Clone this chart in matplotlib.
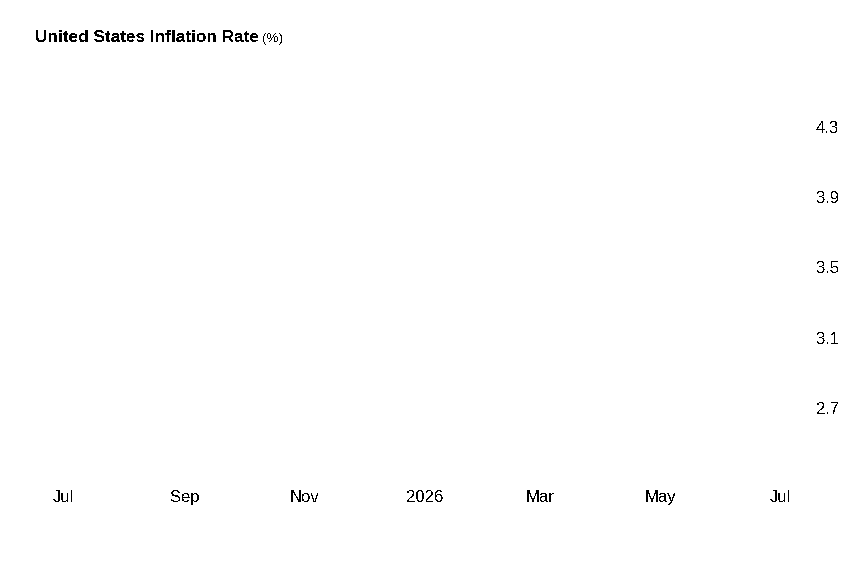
import datetime as dt
import matplotlib
matplotlib.use("Agg")
import matplotlib.pyplot as plt
import matplotlib.dates as mdates

# chart text and axis values
title = "United States Inflation Rate"
unit = "(%)"
y_ticks = [2.7, 3.1, 3.5, 3.9, 4.3]
x_ticks = [dt.date(2025, 7, 1), dt.date(2025, 9, 1), dt.date(2025, 11, 1),
           dt.date(2026, 1, 1), dt.date(2026, 3, 1), dt.date(2026, 5, 1),
           dt.date(2026, 7, 1)]
x_labels = ["Jul", "Sep", "Nov", "2026", "Mar", "May", "Jul"]
# no line is drawn in the reference, the series is empty
dates = []
rates = []

W, H = 860, 588
DPI = 100


def px_to_data(p, p0, v0, p1, v1):
    """linear map from a pixel position to a data value"""
    return v0 + (p - p0) * (v1 - v0) / (p1 - p0)


def main():
    plt.rcParams['font.family'] = ['Liberation Sans', 'DejaVu Sans']
    plt.rcParams['text.antialiased'] = False

    fig = plt.figure(figsize=(W / DPI, H / DPI), dpi=DPI)
    left, right, top, bottom = 30, 800, 60, 470     # axes box in pixels
    ax = fig.add_axes([left / W, 1 - bottom / H, (right - left) / W, (bottom - top) / H])

    ax.plot(dates, rates, color="#1f77b4", lw=2)

    # x limits so Jul 2025 sits at px 63 and Jul 2026 at px 780
    d0 = mdates.date2num(x_ticks[0])
    d1 = mdates.date2num(x_ticks[-1])
    ax.set_xlim(px_to_data(left, 63, d0, 780, d1), px_to_data(right, 63, d0, 780, d1))
    # y limits so 4.3 sits at px 127 and 2.7 at px 408
    ax.set_ylim(px_to_data(bottom, 127, 4.3, 408, 2.7), px_to_data(top, 127, 4.3, 408, 2.7))

    ax.set_xticks(mdates.date2num(x_ticks))
    ax.set_xticklabels(x_labels)
    ax.set_yticks(y_ticks)
    ax.set_yticklabels([f"{v:.1f}" for v in y_ticks])
    ax.yaxis.tick_right()

    ax.tick_params(axis="x", length=0, pad=14.3, labelsize=12, colors="black")
    ax.tick_params(axis="y", length=0, pad=11.5, labelsize=12, colors="black")
    for s in ax.spines.values():
        s.set_visible(False)
    ax.patch.set_visible(False)

    t = fig.text(35 / W, 1 - 38 / H, title, fontsize=12.4, fontweight="bold", va="center")
    fig.canvas.draw()
    bb = t.get_window_extent()
    fig.text((bb.x1 + 3.5) / W, 1 - 39 / H, unit, fontsize=9.6, va="center")

    fig.savefig("out.png", dpi=DPI)


if __name__ == "__main__":
    main()
